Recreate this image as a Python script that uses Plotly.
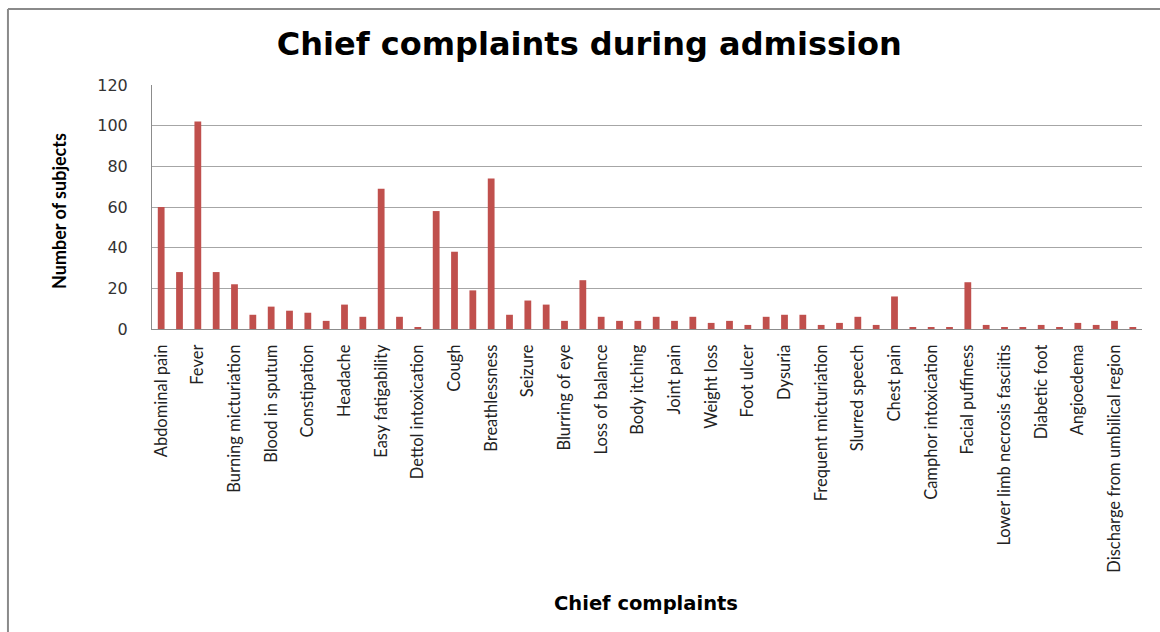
import plotly.graph_objects as go

# Number of subjects per chief complaint, in chart order (54 complaints)
counts = [
    60, 28, 102, 28, 22, 7, 11, 9, 8, 4, 12, 6, 69, 6, 1, 58, 38, 19, 74, 7, 14,
    12, 4, 24, 6, 4, 4, 6, 4, 6, 3, 4, 2, 6, 7, 7, 2, 3, 6, 2, 16,
    1, 1, 1, 23, 2, 1, 1, 2, 1, 3, 2, 4, 1,
]

# Axis labels shown on every other complaint
tick_labels = [
    "Abdominal pain", "Fever", "Burning micturiation", "Blood in sputum",
    "Constipation", "Headache", "Easy fatigability", "Dettol intoxication",
    "Cough", "Breathlessness", "Seizure", "Blurring of eye", "Loss of balance",
    "Body itching", "Joint pain", "Weight loss", "Foot ulcer", "Dysuria",
    "Frequent micturiation", "Slurred speech", "Chest pain",
    "Camphor intoxication", "Facial puffiness", "Lower limb necrosis fasciitis",
    "Diabetic foot", "Angioedema", "Discharge from umbilical region",
]

y_ticks = [0, 20, 40, 60, 80, 100, 120]

positions = list(range(len(counts)))
tick_positions = positions[::2]

fig = go.Figure(
    go.Bar(
        x=positions,
        y=counts,
        marker=dict(color="#C0504D", line=dict(width=0)),
        width=0.37,
    )
)

fig.update_layout(
    width=1160,
    height=632,
    margin=dict(l=152, r=18, t=85, b=303),
    paper_bgcolor="white",
    plot_bgcolor="white",
    showlegend=False,
    title=dict(
        text="<b>Chief complaints during admission</b>",
        font=dict(family="DejaVu Sans", size=32, color="#000000"),
        x=0.508,
        xanchor="center",
        y=0.93,
        yanchor="middle",
    ),
    xaxis=dict(
        range=[-0.5, len(counts) - 0.5],
        tickmode="array",
        tickvals=tick_positions,
        ticktext=tick_labels,
        tickangle=-90,
        tickfont=dict(family="Lato", size=16.5, color="#222222"),
        ticks="",
        ticklabelstandoff=8,
        showgrid=False,
        zeroline=False,
        showline=True,
        linecolor="#8c8c8c",
        linewidth=1,
        automargin=False,
    ),
    yaxis=dict(
        range=[0, 120],
        tickmode="array",
        tickvals=y_ticks,
        tickfont=dict(family="DejaVu Sans", size=16, color="#333333"),
        ticks="",
        ticklabelstandoff=20,
        showgrid=True,
        gridcolor="#a6a6a6",
        gridwidth=1,
        zeroline=False,
        showline=True,
        linecolor="#8c8c8c",
        linewidth=1,
        automargin=False,
    ),
)

# Axis titles
fig.add_annotation(
    text="<b>Chief complaints</b>",
    xref="paper", yref="paper", x=0.499, y=-1.127,
    xanchor="center", yanchor="middle", showarrow=False,
    font=dict(family="DejaVu Sans", size=19.5, color="#000000"),
)
fig.add_annotation(
    text="<b>Number of subjects</b>",
    xref="paper", yref="paper", x=-0.0939, y=0.484,
    xanchor="center", yanchor="middle", showarrow=False, textangle=-90,
    font=dict(family="Lato", size=18, color="#000000"),
)

# Outer frame of the chart area (left and top edges)
fig.add_shape(
    type="line", xref="paper", yref="paper",
    x0=-0.1455, x1=-0.1455, y0=1.311, y1=-1.3,
    line=dict(color="#8a8a8a", width=2),
)
fig.add_shape(
    type="line", xref="paper", yref="paper",
    x0=-0.1455, x1=1.03, y0=1.311, y1=1.311,
    line=dict(color="#8a8a8a", width=2),
)

fig.write_html("out.html")
